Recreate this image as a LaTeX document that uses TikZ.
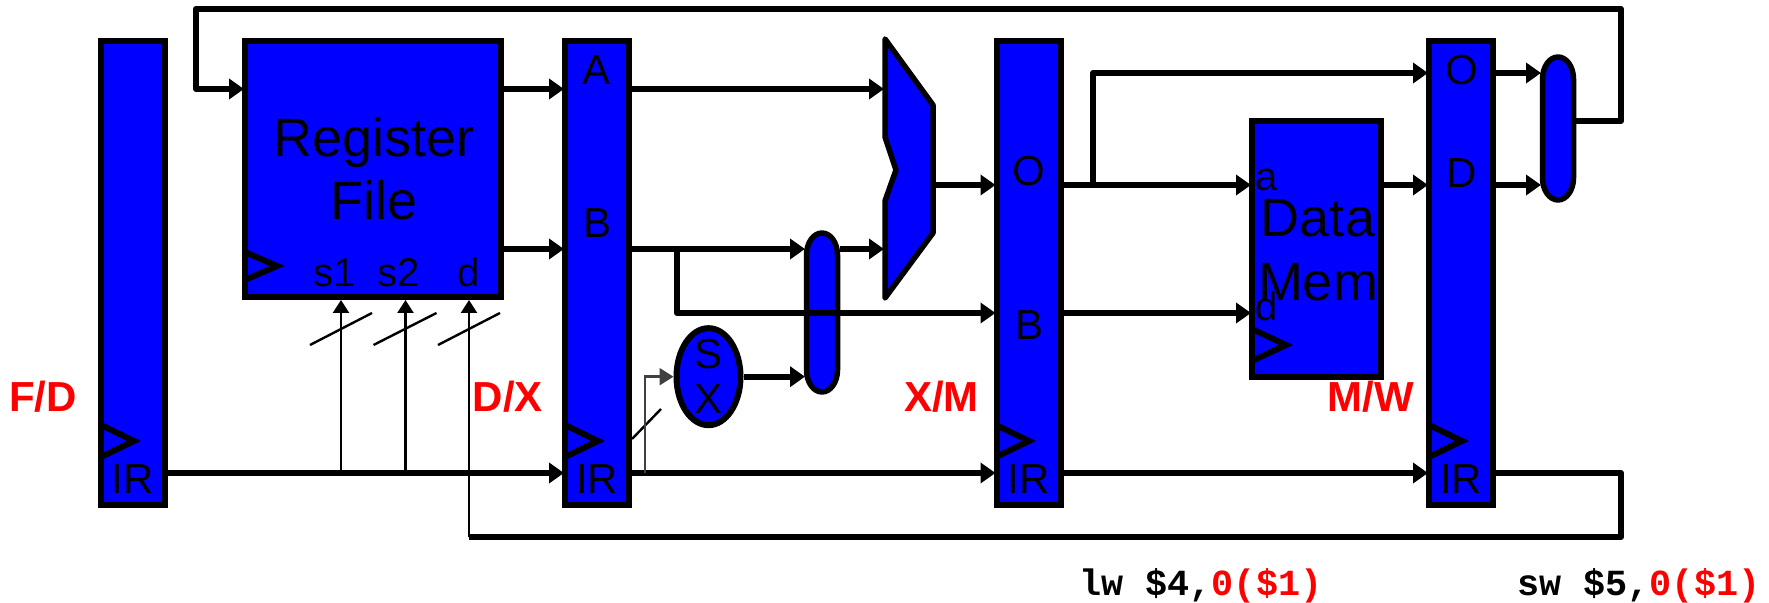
\documentclass[tikz,border=0pt]{standalone}
\usepackage{fontspec}
\setmainfont{Liberation Sans}
\newfontfamily\codefont{Liberation Mono}
\usetikzlibrary{arrows.meta,shapes.geometric,calc}
\definecolor{regblue}{RGB}{0,0,255}
\definecolor{labred}{RGB}{255,0,0}
\tikzset{
  stage/.style={draw=black,fill=regblue,line width=3pt,inner sep=0pt,minimum width=32pt,minimum height=232pt},
  wire/.style={draw=black,line width=3.1pt,line join=round},
  wirearrow/.style={wire,shorten >=-1pt,-{Triangle[length=7.5pt,width=10pt]}},
  thinwire/.style={draw=black,line width=1.2pt},
  thinarrow/.style={thinwire,-{Triangle[length=6.5pt,width=8pt]}},
  clk/.style={draw=black,line width=3pt,line join=miter},
  partshape/.style={draw=black,fill=regblue,line width=2.75pt,line join=round},
  lbl/.style={anchor=base,inner sep=0pt,text=black,font=\fontsize{21}{21}\selectfont},
  big/.style={lbl,font=\fontsize{27}{27}\selectfont},
  small/.style={lbl,font=\fontsize{20}{20}\selectfont},
  stagename/.style={anchor=base,inner sep=0pt,text=labred,font=\fontsize{21}{21}\selectfont\bfseries},
  code/.style={anchor=base west,inner sep=0pt,font=\fontsize{18.4}{18.4}\selectfont\codefont\bfseries},
  anchorbox/.style={draw=none,fill=none,inner sep=0pt,outer sep=0pt}
}
\begin{document}
\begin{tikzpicture}[x=0.5pt,y=-0.5pt]
\useasboundingbox (0,0) rectangle (1769,603);
% rails
\coordinate (yA) at (0,89);
\coordinate (yB) at (0,249);
\coordinate (yO) at (0,185);
\coordinate (yXB) at (0,313);
\coordinate (yMO) at (0,73);
\coordinate (yIR) at (0,473);
\coordinate (yTop) at (0,9);
\coordinate (yBus) at (0,537);
\coordinate (yBack) at (0,121);
\coordinate (xRet) at (196,0);
\coordinate (xRight) at (1621,0);
\coordinate (xB) at (677,0);
\coordinate (xO) at (1093,0);
\coordinate (xS1) at (341,0);
\coordinate (xS2) at (405.5,0);
\coordinate (xD) at (469,0);
\coordinate (xSX) at (645,0);
% thin wires (under)
\draw[thinarrow] (xS1 |- yIR) -- (xS1 |- 0,300);
\draw[thinarrow] (xS2 |- yIR) -- (xS2 |- 0,300);
\draw[thinarrow] (xD |- yBus) -- (xD |- 0,300);
\draw[thinwire] (310,345) -- (372,313);
\draw[thinwire] (373.5,345) -- (436.5,313);
\draw[thinwire] (438,345) -- (500,313);
\draw[thinwire] (632,439) -- (661,409);
% blocks
\node[stage] (fd) at (133,273) {};
\node[stage] (dx) at (597,273) {};
\node[stage] (xm) at (1028.5,273) {};
\node[stage] (mw) at (1461,273) {};
\node[stage,minimum width=128pt,minimum height=128pt] (rf) at (373,169) {};
\node[stage,minimum width=64.5pt,minimum height=128pt] (mem) at (1316.5,249) {};
\node[draw=black,fill=regblue,line width=3pt,ellipse,inner sep=0pt,minimum width=32pt,minimum height=48.5pt] (sx) at (708.5,376.7) {};
\node[anchorbox,minimum width=18.5pt,minimum height=82.5pt] (capa) at (821.5,312.5) {};
\node[anchorbox,minimum width=18.5pt,minimum height=74.5pt] (capb) at (1557.5,128.5) {};
% capsules
\draw[partshape] (806.5,255) arc[start angle=180,end angle=0,x radius=7.75pt,y radius=11pt] -- (837.5,370) arc[start angle=0,end angle=-180,x radius=7.75pt,y radius=11pt] -- cycle;
\draw[partshape] (1542.5,79) arc[start angle=180,end angle=0,x radius=7.75pt,y radius=11pt] -- (1573.5,178) arc[start angle=0,end angle=-180,x radius=7.75pt,y radius=11pt] -- cycle;
% mux
\coordinate (mxIn) at (882,0);
\coordinate (mxOut) at (935.5,0);
\draw[partshape] (885,39) -- (933,105) -- (933,233) -- (885,298) -- (885,201) -- (896,170) -- (885,137) -- cycle;
% clock marks
\draw[clk] (103,426) -- (134,441) -- (103,456);
\draw[clk] (567,426) -- (598,441) -- (567,456);
\draw[clk] (998,426) -- (1029,441) -- (998,456);
\draw[clk] (1431,426) -- (1462,441) -- (1431,456);
\draw[clk] (247,253) -- (277,266) -- (247,279);
\draw[clk] (1254,330) -- (1286,345) -- (1254,360);
% thick wires
\draw[wire] (capb.east |- yBack) -- (xRight |- yBack) -- (xRight |- yTop) -- (xRet |- yTop) -- (xRet |- yA) -- ++(2,0);
\draw[wirearrow] (xRet |- yA) -- (rf.west |- yA);
\draw[wirearrow] (rf.east |- yA) -- (dx.west |- yA);
\draw[wirearrow] (rf.east |- yB) -- (dx.west |- yB);
\draw[wirearrow] (fd.east |- yIR) -- (dx.west |- yIR);
\draw[wirearrow] (dx.east |- yA) -- (mxIn |- yA);
\draw[wirearrow] (dx.east |- yB) -- (capa.west |- yB);
\draw[wirearrow] (capa.east |- yB) -- (mxIn |- yB);
\draw[wirearrow] (xB |- yB) -- (xB |- yXB) -- (xm.west |- yXB);
\draw[wirearrow] (dx.east |- yIR) -- (xm.west |- yIR);
\draw[wirearrow] (sx.east) -- (capa.west |- sx.east);
\draw[thinwire,draw=black!75,-{Triangle[length=7pt,width=8.5pt]}] (xSX |- yIR) -- (xSX |- sx.west) -- (sx.west);
\draw[wirearrow] (mxOut |- yO) -- (xm.west |- yO);
\draw[wirearrow] (xm.east |- yO) -- (mem.west |- yO);
\draw[wirearrow] (xO |- yO) -- (xO |- yMO) -- (mw.west |- yMO);
\draw[wirearrow] (xm.east |- yXB) -- (mem.west |- yXB);
\draw[wirearrow] (xm.east |- yIR) -- (mw.west |- yIR);
\draw[wirearrow] (mem.east |- yO) -- (mw.west |- yO);
\draw[wirearrow] (mw.east |- yMO) -- (capb.west |- yMO);
\draw[wirearrow] (mw.east |- yO) -- (capb.west |- yO);
\draw[wire] (mw.east |- yIR) -- (xRight |- yIR) -- (xRight |- yBus) -- (xD |- yBus);
% labels
\node[big] (t1) at (374,157) {Register};
\node[big] (t2) at (374,220) {File};
\node[small] (t3) at (335,286.5) {s1};
\node[small] (t4) at (399,286.5) {s2};
\node[small] (t5) at (469,286.5) {d};
\node[lbl] (t6) at (597,85) {A};
\node[lbl] (t7) at (597.5,238) {B};
\node[lbl] (t8) at (133,494) {IR};
\node[lbl] (t9) at (597,494) {IR};
\node[lbl] (t10) at (1028.5,494) {IR};
\node[lbl] (t11) at (1461,494) {IR};
\node[lbl] (t12) at (1029,186) {O};
\node[lbl] (t13) at (1029,340) {B};
\node[lbl] (t14) at (1461.5,85) {O};
\node[lbl] (t15) at (1461.5,187.5) {D};
\node[small] (t16) at (1267,190.7) {a};
\node[small] (t17) at (1267,321) {d};
\node[big] (t18) at (1318,236.7) {Data};
\node[big] (t19) at (1318,301) {Mem};
\node[lbl] (t20) at (709,368.5) {S};
\node[lbl] (t21) at (709,414) {X};
\node[stagename] (n1) at (43,411.7) {F/D};
\node[stagename] (n2) at (507.7,411.7) {D/X};
\node[stagename] (n3) at (941.6,411.7) {X/M};
\node[stagename] (n4) at (1371,411.7) {M/W};
\node[code] (c1) at (1079,595.5) {lw \$4,\textcolor{labred}{0(\$1)}};
\node[code] (c2) at (1517,595.5) {sw \$5,\textcolor{labred}{0(\$1)}};
\end{tikzpicture}
\end{document}
